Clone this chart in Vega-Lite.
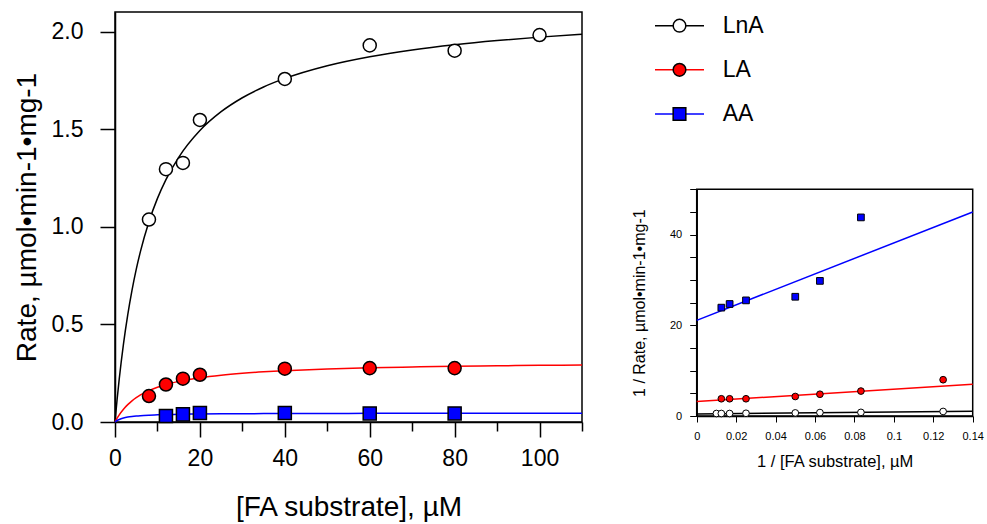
{
  "$schema": "https://vega.github.io/schema/vega-lite/v6.json",
  "width": 467,
  "height": 410,
  "autosize": {"type": "none"},
  "padding": {"left": 115, "top": 12, "right": 405, "bottom": 102},
  "background": "white",
  "config": {
    "font": "Liberation Sans",
    "view": {"stroke": "black", "strokeWidth": 1.5},
    "axis": {"domainColor": "black", "tickColor": "black", "labelColor": "black", "titleColor": "black", "titleFontWeight": "normal", "grid": false, "domainWidth": 1.5, "tickWidth": 1.5, "labelFont": "Liberation Sans", "titleFont": "Liberation Sans", "labelFlush": false}
  },
  "datasets": {
    "mainPoints": [
      {"series": "LnA", "x": 8, "y": 1.037}, {"series": "LnA", "x": 12, "y": 1.295}, {"series": "LnA", "x": 16, "y": 1.327}, {"series": "LnA", "x": 20, "y": 1.547},
      {"series": "LnA", "x": 40, "y": 1.757}, {"series": "LnA", "x": 60, "y": 1.929}, {"series": "LnA", "x": 80, "y": 1.902}, {"series": "LnA", "x": 100, "y": 1.982},
      {"series": "LA", "x": 8, "y": 0.133}, {"series": "LA", "x": 12, "y": 0.192}, {"series": "LA", "x": 16, "y": 0.222}, {"series": "LA", "x": 20, "y": 0.242},
      {"series": "LA", "x": 40, "y": 0.273}, {"series": "LA", "x": 60, "y": 0.276}, {"series": "LA", "x": 80, "y": 0.276},
      {"series": "AA", "x": 12, "y": 0.031}, {"series": "AA", "x": 16, "y": 0.039}, {"series": "AA", "x": 20, "y": 0.046},
      {"series": "AA", "x": 40, "y": 0.046}, {"series": "AA", "x": 60, "y": 0.044}, {"series": "AA", "x": 80, "y": 0.044}
    ],
    "mainCurves": [
      {"series": "LnA", "x": 0, "y": 0}, {"series": "LnA", "x": 0.5, "y": 0.1163}, {"series": "LnA", "x": 1, "y": 0.2207}, {"series": "LnA", "x": 2, "y": 0.4002},
      {"series": "LnA", "x": 3, "y": 0.549}, {"series": "LnA", "x": 4, "y": 0.6744}, {"series": "LnA", "x": 5, "y": 0.7815}, {"series": "LnA", "x": 6, "y": 0.8741},
      {"series": "LnA", "x": 8, "y": 1.026}, {"series": "LnA", "x": 10, "y": 1.1454}, {"series": "LnA", "x": 12, "y": 1.2417}, {"series": "LnA", "x": 15, "y": 1.3557},
      {"series": "LnA", "x": 20, "y": 1.4929}, {"series": "LnA", "x": 25, "y": 1.5893}, {"series": "LnA", "x": 30, "y": 1.6608}, {"series": "LnA", "x": 35, "y": 1.716},
      {"series": "LnA", "x": 40, "y": 1.7598}, {"series": "LnA", "x": 50, "y": 1.8251}, {"series": "LnA", "x": 60, "y": 1.8713}, {"series": "LnA", "x": 70, "y": 1.9059},
      {"series": "LnA", "x": 80, "y": 1.9326}, {"series": "LnA", "x": 90, "y": 1.9539}, {"series": "LnA", "x": 100, "y": 1.9713}, {"series": "LnA", "x": 110, "y": 1.9858},
      {"series": "LA", "x": 0, "y": 0}, {"series": "LA", "x": 0.5, "y": 0.0195}, {"series": "LA", "x": 1, "y": 0.0367}, {"series": "LA", "x": 2, "y": 0.0657},
      {"series": "LA", "x": 3, "y": 0.0891}, {"series": "LA", "x": 4, "y": 0.1085}, {"series": "LA", "x": 5, "y": 0.1248}, {"series": "LA", "x": 6, "y": 0.1387},
      {"series": "LA", "x": 8, "y": 0.161}, {"series": "LA", "x": 10, "y": 0.1783}, {"series": "LA", "x": 12, "y": 0.192}, {"series": "LA", "x": 15, "y": 0.208},
      {"series": "LA", "x": 20, "y": 0.2269}, {"series": "LA", "x": 25, "y": 0.24}, {"series": "LA", "x": 30, "y": 0.2496}, {"series": "LA", "x": 35, "y": 0.2569},
      {"series": "LA", "x": 40, "y": 0.2627}, {"series": "LA", "x": 50, "y": 0.2713}, {"series": "LA", "x": 60, "y": 0.2773}, {"series": "LA", "x": 70, "y": 0.2818},
      {"series": "LA", "x": 80, "y": 0.2853}, {"series": "LA", "x": 90, "y": 0.288}, {"series": "LA", "x": 100, "y": 0.2902}, {"series": "LA", "x": 110, "y": 0.2921},
      {"series": "AA", "x": 0, "y": 0}, {"series": "AA", "x": 0.5, "y": 0.0077}, {"series": "AA", "x": 1, "y": 0.0131}, {"series": "AA", "x": 2, "y": 0.0204},
      {"series": "AA", "x": 3, "y": 0.0251}, {"series": "AA", "x": 4, "y": 0.0283}, {"series": "AA", "x": 5, "y": 0.0307}, {"series": "AA", "x": 6, "y": 0.0325},
      {"series": "AA", "x": 8, "y": 0.035}, {"series": "AA", "x": 10, "y": 0.0368}, {"series": "AA", "x": 12, "y": 0.0381}, {"series": "AA", "x": 15, "y": 0.0394},
      {"series": "AA", "x": 20, "y": 0.0409}, {"series": "AA", "x": 25, "y": 0.0418}, {"series": "AA", "x": 30, "y": 0.0425}, {"series": "AA", "x": 35, "y": 0.0429},
      {"series": "AA", "x": 40, "y": 0.0433}, {"series": "AA", "x": 50, "y": 0.0438}, {"series": "AA", "x": 60, "y": 0.0442}, {"series": "AA", "x": 70, "y": 0.0444},
      {"series": "AA", "x": 80, "y": 0.0446}, {"series": "AA", "x": 90, "y": 0.0448}, {"series": "AA", "x": 100, "y": 0.0449}, {"series": "AA", "x": 110, "y": 0.045}
    ],
    "insetPoints": [
      {"series": "LnA", "x": 0.01, "y": 0.55}, {"series": "LnA", "x": 0.0125, "y": 0.55}, {"series": "LnA", "x": 0.0167, "y": 0.55}, {"series": "LnA", "x": 0.025, "y": 0.6},
      {"series": "LnA", "x": 0.05, "y": 0.68}, {"series": "LnA", "x": 0.0625, "y": 0.76}, {"series": "LnA", "x": 0.0833, "y": 0.8}, {"series": "LnA", "x": 0.125, "y": 1.0},
      {"series": "LA", "x": 0.0125, "y": 3.8}, {"series": "LA", "x": 0.0167, "y": 3.8}, {"series": "LA", "x": 0.025, "y": 3.8}, {"series": "LA", "x": 0.05, "y": 4.3},
      {"series": "LA", "x": 0.0625, "y": 4.8}, {"series": "LA", "x": 0.0833, "y": 5.5}, {"series": "LA", "x": 0.125, "y": 8.0},
      {"series": "AA", "x": 0.0125, "y": 23.9}, {"series": "AA", "x": 0.0167, "y": 24.7}, {"series": "AA", "x": 0.025, "y": 25.5}, {"series": "AA", "x": 0.05, "y": 26.3},
      {"series": "AA", "x": 0.0625, "y": 29.8}, {"series": "AA", "x": 0.0833, "y": 43.8}
    ],
    "insetLines": [
      {"series": "LnA", "x": 0, "y": 0.45}, {"series": "LnA", "x": 0.14, "y": 1.05},
      {"series": "LA", "x": 0, "y": 3.2}, {"series": "LA", "x": 0.14, "y": 7.0},
      {"series": "AA", "x": 0, "y": 21.1}, {"series": "AA", "x": 0.14, "y": 45.0}
    ],
    "legendRows": [{"series": "LnA"}, {"series": "LA"}, {"series": "AA"}],
    "frame": [{"part": "inset frame"}]
  },
  "layer": [
    {
      "layer": [
        {
          "data": {"name": "mainCurves"},
          "mark": {"type": "line", "strokeWidth": 1.5, "interpolate": "monotone"},
          "encoding": {
            "x": {"field": "x", "type": "quantitative", "scale": {"domain": [0, 110], "nice": false, "zero": false},
              "axis": {"orient": "bottom", "values": [0, 10, 20, 30, 40, 50, 60, 70, 80, 90, 100, 110], "labelExpr": "datum.value % 20 === 0 ? datum.label : ''",
                "tickSize": {"condition": {"test": "datum.value % 20 === 0", "value": 15}, "value": 9}, "labelFontSize": 23, "labelPadding": 10,
                "title": "[FA substrate], µM", "titleFontSize": 28, "titlePadding": 23}},
            "y": {"field": "y", "type": "quantitative", "scale": {"domain": [0, 2.1], "nice": false},
              "axis": {"values": [0, 0.5, 1, 1.5, 2], "format": ".1f", "tickSize": 15, "labelFontSize": 23, "labelPadding": 17,
                "title": "Rate, µmol•min-1•mg-1", "titleFontSize": 28, "titlePadding": 10}},
            "color": {"field": "series", "type": "nominal", "scale": {"domain": ["LnA", "LA", "AA"], "range": ["#000000", "#ff0000", "#0000ff"]}, "legend": null}
          }
        },
        {
          "data": {"name": "mainPoints"},
          "mark": {"type": "point", "filled": true, "size": 170, "stroke": "black", "strokeWidth": 1.5, "opacity": 1},
          "encoding": {
            "x": {"field": "x", "type": "quantitative"},
            "y": {"field": "y", "type": "quantitative"},
            "fill": {"field": "series", "type": "nominal", "scale": {"domain": ["LnA", "LA", "AA"], "range": ["#ffffff", "#ff0000", "#0000ff"]}, "legend": null},
            "shape": {"field": "series", "type": "nominal", "scale": {"domain": ["LnA", "LA", "AA"], "range": ["circle", "circle", "square"]}, "legend": null}
          }
        }
      ]
    },
    {
      "layer": [
        {
          "data": {"name": "frame"},
          "mark": {"type": "rect", "fill": null, "stroke": "black", "strokeWidth": 1.5},
          "encoding": {
            "x": {"datum": 0, "type": "quantitative", "scale": {"domain": [0, 0.14], "range": [581.7, 857.7], "nice": false, "zero": false},
              "axis": {"orient": "bottom", "offset": -6, "values": [0, 0.01, 0.02, 0.03, 0.04, 0.05, 0.06, 0.07, 0.08, 0.09, 0.1, 0.11, 0.12, 0.13, 0.14],
                "labelExpr": "round(datum.value*100) % 2 === 0 ? '' + round(datum.value*100)/100 : ''", "tickSize": 6, "tickWidth": 1, "domainWidth": 1.5,
                "labelFontSize": 11, "labelPadding": 8, "title": "1 / [FA substrate], µM", "titleFontSize": 16.5, "titlePadding": 12}},
            "x2": {"datum": 0.14},
            "y": {"datum": 0, "type": "quantitative", "scale": {"domain": [0, 50], "range": [404, 177.3], "nice": false},
              "axis": {"orient": "left", "offset": -581.7, "values": [0, 5, 10, 15, 20, 25, 30, 35, 40, 45, 50], "labelExpr": "datum.value % 20 === 0 ? datum.label : ''",
                "tickSize": 7, "tickWidth": 1, "domainWidth": 1.5, "labelFontSize": 11, "labelPadding": 8,
                "title": "1 / Rate, µmol•min-1•mg-1", "titleFontSize": 16, "titlePadding": 22}},
            "y2": {"datum": 50}
          }
        },
        {
          "data": {"name": "insetLines"},
          "mark": {"type": "line", "strokeWidth": 1.5},
          "encoding": {
            "x": {"field": "x", "type": "quantitative"},
            "y": {"field": "y", "type": "quantitative"},
            "color": {"field": "series", "type": "nominal", "legend": null}
          }
        },
        {
          "data": {"name": "insetPoints"},
          "mark": {"type": "point", "filled": true, "size": 45, "stroke": "black", "strokeWidth": 1, "opacity": 1},
          "encoding": {
            "x": {"field": "x", "type": "quantitative"},
            "y": {"field": "y", "type": "quantitative"},
            "fill": {"field": "series", "type": "nominal", "legend": null},
            "shape": {"field": "series", "type": "nominal", "legend": null}
          }
        }
      ]
    },
    {
      "data": {"name": "legendRows"},
      "layer": [
        {
          "mark": {"type": "rule", "strokeWidth": 1.5},
          "encoding": {
            "x": {"datum": 0, "type": "quantitative", "scale": {"domain": [0, 1], "range": [540, 589], "nice": false, "zero": false}, "axis": null},
            "x2": {"datum": 1},
            "y": {"field": "series", "type": "nominal", "scale": {"type": "point", "domain": ["LnA", "LA", "AA"], "range": [13.7, 102], "padding": 0}, "axis": null},
            "color": {"field": "series", "type": "nominal", "legend": null}
          }
        },
        {
          "mark": {"type": "point", "filled": true, "size": 160, "stroke": "black", "strokeWidth": 1.5, "opacity": 1},
          "encoding": {
            "x": {"datum": 0.5, "type": "quantitative"},
            "y": {"field": "series", "type": "nominal"},
            "fill": {"field": "series", "type": "nominal", "legend": null},
            "shape": {"field": "series", "type": "nominal", "legend": null}
          }
        },
        {
          "mark": {"type": "text", "align": "left", "baseline": "middle", "dx": 18.7, "fontSize": 23, "color": "black"},
          "encoding": {
            "x": {"datum": 1, "type": "quantitative"},
            "y": {"field": "series", "type": "nominal"},
            "text": {"field": "series", "type": "nominal"}
          }
        }
      ]
    }
  ],
  "resolve": {"scale": {"x": "independent", "y": "independent"}, "axis": {"x": "independent", "y": "independent"}}
}
